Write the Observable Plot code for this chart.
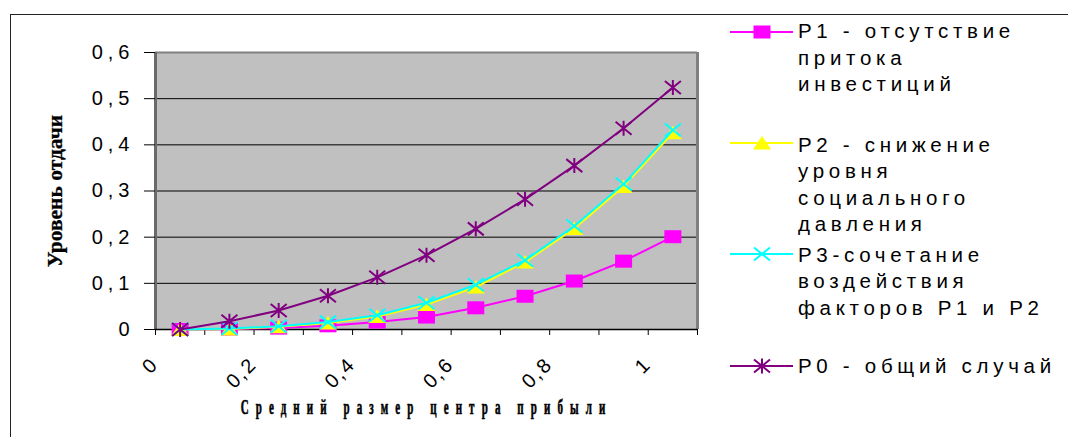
<!DOCTYPE html>
<html>
<head>
<meta charset="utf-8">
<script src="https://cdn.jsdelivr.net/npm/d3@7"></script>
<script src="https://cdn.jsdelivr.net/npm/@observablehq/plot@0.6"></script>
<style>
  html, body { margin: 0; padding: 0; background: #fff; }
  #wrap { position: relative; width: 1068px; height: 437px; overflow: hidden; background: #fff; }
  #border { position: absolute; left: 10px; top: 14px; width: 1200px; height: 600px;
            border-left: 1px solid #222; border-top: 1px solid #222; }
  #chart { position: absolute; left: 0; top: 0; }
  #chart svg { overflow: visible; }
  #chart g[aria-label="y-axis tick label"] text { letter-spacing: 5px; }
  #chart text.xtick { letter-spacing: 2px; }
  #chart text.xtitle { letter-spacing: 12.9px; }
  .item { position: absolute; left: 730px; }
  .sym { position: absolute; left: 0; }
  .txt { position: absolute; left: 68px; white-space: nowrap;
         font-family: "Liberation Sans", Arial, sans-serif; font-size: 20.5px;
         letter-spacing: 4.7px; line-height: 26.5px; color: #000; }
</style>
</head>
<body>
<div id="wrap">
  <div id="border"></div>
  <div id="chart"></div>
  <div id="legend"></div>
</div>
<script>
// ---- data ----
const categories = [0, 0.1, 0.2, 0.3, 0.4, 0.5, 0.6, 0.7, 0.8, 0.9, 1];
const xTickValues = [0, 0.2, 0.4, 0.6, 0.8, 1];
const xTickLabels = ["0", "0,2", "0,4", "0,6", "0,8", "1"];
const yTicks = [0, 0.1, 0.2, 0.3, 0.4, 0.5, 0.6];
const yTickLabels = ["0", "0,1", "0,2", "0,3", "0,4", "0,5", "0,6"];

const p1 = [0, 0.001, 0.003, 0.008, 0.016, 0.027, 0.047, 0.072, 0.105, 0.148, 0.201];
const p2 = [0, 0.001, 0.006, 0.014, 0.028, 0.054, 0.092, 0.146, 0.219, 0.310, 0.426];
const p3 = [0, 0.002, 0.007, 0.016, 0.031, 0.058, 0.097, 0.150, 0.224, 0.315, 0.432];
const p0 = [0, 0.018, 0.041, 0.073, 0.113, 0.161, 0.218, 0.282, 0.355, 0.436, 0.524];

const seriesLabels = [
  ["Р1 - отсутствие", "притока", "инвестиций"],
  ["Р2 - снижение", "уровня", "социального", "давления"],
  ["Р3-сочетание", "воздействия", "факторов Р1 и Р2"],
  ["Р0 - общий случай"]
];
const seriesColors = ["#ff00ff", "#ffff00", "#00ffff", "#800080"];

const yTitle = "Уровень отдачи";
const xTitle = "Средний размер центра прибыли";

// ---- marker symbols ----
const symSquare = { draw(ctx) { ctx.rect(-8.5, -6.5, 17, 13); } };
const symTriangle = { draw(ctx) { ctx.moveTo(0, -7); ctx.lineTo(9, 6.5); ctx.lineTo(-9, 6.5); ctx.closePath(); } };
const symCross = { draw(ctx) { ctx.moveTo(-8, -6.5); ctx.lineTo(8, 6.5); ctx.moveTo(8, -6.5); ctx.lineTo(-8, 6.5); } };
const symStar = { draw(ctx) { ctx.moveTo(-8, -6.5); ctx.lineTo(8, 6.5); ctx.moveTo(8, -6.5); ctx.lineTo(-8, 6.5); ctx.moveTo(0, -7.5); ctx.lineTo(0, 7.5); } };

const series = [
  { values: p1, color: seriesColors[0], symbol: symSquare, filled: true },
  { values: p2, color: seriesColors[1], symbol: symTriangle, filled: true },
  { values: p3, color: seriesColors[2], symbol: symCross, filled: false },
  { values: p0, color: seriesColors[3], symbol: symStar, filled: false }
];

const half = 0.05; // category centre offset (band middle)

const seriesMarks = series.flatMap(s => {
  const rows = categories.map((c, i) => ({ c, v: s.values[i] }));
  return [
    Plot.line(rows, { x: d => d.c + half, y: "v", stroke: s.color, strokeWidth: 2 }),
    Plot.dot(rows, {
      x: d => d.c + half, y: "v", symbol: s.symbol, r: 5,
      fill: s.filled ? s.color : "none", stroke: s.filled ? "none" : s.color,
      strokeWidth: s.filled ? 0 : 2
    })
  ];
});

const plot = Plot.plot({
  width: 1068,
  height: 437,
  marginLeft: 155,
  marginRight: 371,
  marginTop: 52,
  marginBottom: 108,
  style: { fontFamily: "'Liberation Sans', Arial, sans-serif", fontSize: "20px", background: "transparent", color: "#000" },
  x: { domain: [0, 1.1], label: null },
  y: { domain: [0, 0.6], label: null },
  marks: [
    Plot.frame({ fill: "#c0c0c0", stroke: "none" }),
    Plot.ruleY(yTicks.slice(1, -1), { stroke: "#000", strokeWidth: 1 }),
    Plot.ruleY([0.6], { stroke: "#808080", strokeWidth: 2 }),
    Plot.ruleX([1.1], { stroke: "#808080", strokeWidth: 3 }),
    Plot.ruleX([0], { stroke: "#6a6a6a", strokeWidth: 3 }),
    Plot.axisY({ ticks: yTicks, tickSize: 11, tickPadding: 10, stroke: "#000", label: null,
                 tickFormat: (d) => yTickLabels[yTicks.indexOf(d)] }),
    Plot.axisX({ ticks: d3.range(12).map(i => i / 10), tickSize: 6, tickFormat: () => "", stroke: "#000", label: null }),
    Plot.ruleY([0], { stroke: "#000", strokeWidth: 1.5 }),
    Plot.text(xTickValues, { x: d => d, text: (d, i) => xTickLabels[i], frameAnchor: "bottom",
                 rotate: -45, textAnchor: "end", dx: 4, dy: 36, fontSize: 20 }),
    Plot.text([yTitle], { frameAnchor: "left", rotate: -90, textAnchor: "middle", lineAnchor: "middle", dx: -100, fontSize: 21.5, fontWeight: "bold",
                 fontFamily: "'Liberation Serif', 'Times New Roman', serif", fill: "#000", stroke: "#000", strokeWidth: 0.3 }),
    Plot.text([xTitle], { frameAnchor: "bottom", dy: 84, fontSize: 20, fontWeight: "bold",
                 fontFamily: "'Liberation Serif', 'Times New Roman', serif", fill: "#000", stroke: "#000", strokeWidth: 0.6 }),
    ...seriesMarks
  ]
});
document.getElementById("chart").appendChild(plot);

// style hooks by content
d3.select(plot).selectAll("text").each(function () {
  const s = this.textContent;
  if (s === xTitle) {
    this.classList.add("xtitle");
    const t = this.getAttribute("transform") || "";
    this.setAttribute("transform", t + " scale(0.55,1)");
  } else if (xTickLabels.includes(s) && (this.getAttribute("transform") || "").includes("rotate")) {
    this.classList.add("xtick");
  }
});

// ---- legend ----
const legendTextTops = [18.1, 131.5, 241.5, 353.1];
const legendSymY = [31.7, 142.7, 254.3, 366];
const legend = document.getElementById("legend");
series.forEach((s, k) => {
  const item = document.createElement("div");
  item.className = "item";
  item.style.top = "0px";
  const svg = d3.create("svg").attr("width", 66).attr("height", 20)
    .attr("class", "sym").style("top", (legendSymY[k] - 10) + "px");
  svg.append("line").attr("x1", 0).attr("x2", 63).attr("y1", 10).attr("y2", 10)
    .attr("stroke", s.color).attr("stroke-width", 2);
  const path = d3.path();
  s.symbol.draw(path);
  svg.append("path").attr("d", path.toString()).attr("transform", "translate(32,10)")
    .attr("fill", s.filled ? s.color : "none").attr("stroke", s.filled ? "none" : s.color)
    .attr("stroke-width", 2);
  item.appendChild(svg.node());
  const txt = document.createElement("div");
  txt.className = "txt";
  txt.style.top = legendTextTops[k] + "px";
  txt.innerHTML = seriesLabels[k].join("<br>");
  item.appendChild(txt);
  legend.appendChild(item);
});
</script>
</body>
</html>
